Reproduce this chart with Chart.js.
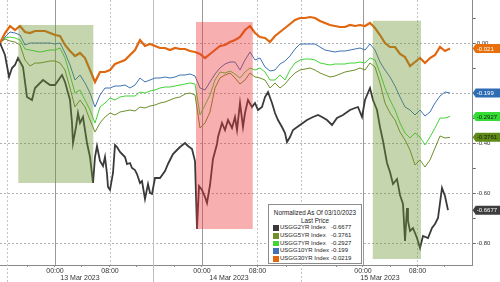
<!DOCTYPE html>
<html lang="en">
<head>
<meta charset="UTF-8" />
<title>US Treasury yields normalized</title>
<script src="https://cdn.jsdelivr.net/npm/chart.js"></script>
<style>
  html, body { margin: 0; padding: 0; background: #fff; }
  body { width: 500px; height: 282px; overflow: hidden; position: relative; font-family: "Liberation Sans", Arial, sans-serif; }
  #chart { position: absolute; left: 0; top: 0; }
  .legend { position: absolute; left: 268px; top: 204px; width: 92px; height: 58px; background: #fff; border: 1px solid #8c8c8c; font-size: 6px; line-height: 7.7px; color: #222; }
  .legend .ttl { text-align: center; font-size: 6.3px; }
  .legend .ttl:first-child { margin-top: 4px; }
  .legend .row { position: relative; height: 7.7px; }
  .legend .sw { position: absolute; left: 4px; top: 1px; width: 5.5px; height: 5.5px; }
  .legend .nm { position: absolute; left: 11px; top: 0; white-space: nowrap; }
  .legend .val { position: absolute; left: 62px; top: 0; }
</style>
</head>
<body>
<canvas id="chart" width="500" height="282"></canvas>
<div class="legend">
  <div class="ttl">Normalized As Of 03/10/2023</div>
  <div class="ttl">Last Price</div>
  <div id="legendRows"></div>
</div>

<script>
// x is trading time in sample units (1 unit ~ 35 min, gaps removed)
const seriesNames = ['USGG2YR Index', 'USGG5YR Index', 'USGG7YR Index', 'USGG10YR Index', 'USGG30YR Index'];
const lastPrice = ['-0.6677', '-0.3761', '-0.2927', '-0.199', '-0.0219'];
const tagText = ['-0.6677', '-0.3761', '-0.2927', '-0.199', '-0.021'];
const seriesColors = ['#3a3a3a', '#6e8f2a', '#43d438', '#3f73b5', '#e0670f'];
const tagColors = ['#3d3d3d', '#5f8a16', '#33dd33', '#2e6db4', '#e8700a'];
const tagTextColors = ['#fff', '#1a1a1a', '#1a1a1a', '#fff', '#fff'];

// 2Y is read at its own (irregular) time points, it is the most jagged line
const us2yTime = [
  0, 1, 1.8, 2.4, 3, 3.6, 4.6, 5.4, 6.4, 7, 8.6, 10, 11, 12.4, 13, 14, 14.4, 14.6, 15.2, 15.6,
  16, 16.6, 17.4, 18, 18.6, 19, 19.4, 20, 20.6, 21, 21.4, 21.6, 22, 22.6, 23, 23.4, 24, 24.4, 25, 25.4,
  26, 26.4, 27, 27.4, 28, 28.4, 29, 29.6, 30, 30.4, 31, 32, 33, 33.6, 34, 34.6, 35.4, 36, 37, 37.6,
  38.4, 39, 39.4, 39.8, 40.4, 41, 41.4, 42, 42.6, 43.4, 43.6, 44.4, 45, 45.6, 46.4, 47, 47.4, 48, 48.6, 49,
  49.6, 50.4, 51, 51.6, 52.4, 53, 53.6, 54.4, 55, 55.6, 56.4, 57, 57.4, 58, 58.6, 60, 61.4, 62.6, 63.6, 64.4,
  65.4, 66.4, 67.4, 68.6, 70, 71, 71.6, 72.4, 73, 74, 74.6, 75.4, 76, 76.6, 77.4, 78, 78.6, 79.4, 80, 80.6,
  81, 81.4, 81.6, 82, 82.6, 83.4, 84, 84.6, 85.6, 86.4, 87, 87.6, 88.4, 89, 89.6
];
const us2y = [
  0.001, -0.047, -0.135, -0.099, -0.087, -0.059, -0.095, -0.215, -0.227, -0.179, -0.147, -0.167, -0.167, -0.127, -0.155, -0.227, -0.319, -0.399, -0.335, -0.279,
  -0.319, -0.295, -0.399, -0.455, -0.559, -0.455, -0.411, -0.471, -0.491, -0.455, -0.523, -0.575, -0.587, -0.519, -0.407, -0.415, -0.435, -0.443, -0.455, -0.483,
  -0.479, -0.499, -0.507, -0.523, -0.559, -0.551, -0.623, -0.563, -0.599, -0.603, -0.539, -0.539, -0.511, -0.483, -0.467, -0.443, -0.427, -0.415, -0.399, -0.411,
  -0.423, -0.471, -0.743, -0.571, -0.587, -0.615, -0.639, -0.567, -0.463, -0.403, -0.375, -0.319, -0.347, -0.307, -0.339, -0.295, -0.347, -0.239, -0.335, -0.279,
  -0.227, -0.255, -0.239, -0.267, -0.255, -0.215, -0.195, -0.239, -0.279, -0.307, -0.335, -0.359, -0.395, -0.375, -0.347, -0.327, -0.307, -0.295, -0.287, -0.295,
  -0.307, -0.327, -0.299, -0.287, -0.267, -0.259, -0.255, -0.295, -0.227, -0.179, -0.227, -0.267, -0.335, -0.391, -0.479, -0.515, -0.563, -0.543, -0.607, -0.643,
  -0.791, -0.659, -0.711, -0.751, -0.739, -0.779, -0.819, -0.771, -0.779, -0.739, -0.723, -0.699, -0.579, -0.611, -0.6677
];

// the other tenors share a regular time grid: 0, 1, 2, ... 90
const us5y = [
  0.001, 0.017, 0.009, 0.005, -0.007, -0.067, -0.091, -0.079, -0.079, -0.075,
  -0.071, -0.071, -0.079, -0.107, -0.179, -0.255, -0.227, -0.255, -0.307, -0.355,
  -0.319, -0.295, -0.279, -0.287, -0.275, -0.271, -0.267, -0.271, -0.255, -0.259,
  -0.251, -0.247, -0.239, -0.235, -0.227, -0.219, -0.215, -0.203, -0.199, -0.207,
  -0.339, -0.319, -0.275, -0.179, -0.139, -0.127, -0.119, -0.139, -0.163, -0.147,
  -0.119, -0.135, -0.139, -0.147, -0.179, -0.159, -0.179, -0.163, -0.139, -0.119,
  -0.107, -0.103, -0.099, -0.107, -0.119, -0.127, -0.135, -0.131, -0.123, -0.115,
  -0.111, -0.107, -0.099, -0.107, -0.079, -0.095, -0.159, -0.239, -0.279, -0.307,
  -0.355, -0.387, -0.427, -0.487, -0.467, -0.495, -0.467, -0.419, -0.371, -0.379,
  -0.3761
];
const us7y = [
  0.001, 0.021, 0.025, 0.021, 0.013, -0.023, -0.027, -0.031, -0.035, -0.031,
  -0.027, -0.027, -0.019, -0.059, -0.127, -0.199, -0.187, -0.227, -0.267, -0.319,
  -0.255, -0.239, -0.219, -0.227, -0.215, -0.211, -0.211, -0.211, -0.195, -0.199,
  -0.191, -0.187, -0.179, -0.175, -0.175, -0.171, -0.167, -0.163, -0.159, -0.163,
  -0.287, -0.247, -0.207, -0.147, -0.115, -0.119, -0.111, -0.123, -0.139, -0.115,
  -0.099, -0.107, -0.099, -0.115, -0.147, -0.147, -0.127, -0.147, -0.107, -0.079,
  -0.067, -0.063, -0.063, -0.067, -0.079, -0.083, -0.087, -0.083, -0.083, -0.083,
  -0.079, -0.079, -0.075, -0.079, -0.059, -0.067, -0.119, -0.179, -0.227, -0.267,
  -0.319, -0.359, -0.379, -0.359, -0.375, -0.407, -0.375, -0.339, -0.299, -0.299,
  -0.2927
];
const us10y = [
  0.001, 0.025, 0.045, 0.041, 0.033, -0.007, 0.001, 0.001, 0.001, 0.001,
  0.001, -0.003, 0.001, -0.039, -0.087, -0.147, -0.127, -0.159, -0.199, -0.255,
  -0.207, -0.179, -0.179, -0.171, -0.171, -0.167, -0.179, -0.167, -0.139, -0.155,
  -0.147, -0.139, -0.139, -0.135, -0.139, -0.135, -0.127, -0.127, -0.123, -0.131,
  -0.179, -0.187, -0.155, -0.123, -0.099, -0.083, -0.075, -0.075, -0.107, -0.067,
  -0.035, -0.067, -0.059, -0.095, -0.111, -0.107, -0.083, -0.071, -0.051, -0.023,
  -0.003, -0.003, -0.003, -0.003, -0.015, -0.027, -0.031, -0.035, -0.031, -0.031,
  -0.027, -0.023, -0.019, -0.027, -0.003, -0.027, -0.075, -0.107, -0.135, -0.171,
  -0.215, -0.255, -0.267, -0.287, -0.267, -0.291, -0.275, -0.239, -0.211, -0.195,
  -0.199
];
const us30y = [
  0.001, 0.041, 0.069, 0.053, 0.069, 0.045, 0.041, 0.049, 0.049, 0.049,
  0.041, 0.033, 0.029, -0.007, -0.031, -0.051, -0.039, -0.059, -0.107, -0.155,
  -0.115, -0.115, -0.107, -0.083, -0.075, -0.067, -0.047, -0.027, 0.013, -0.011,
  -0.003, -0.011, -0.019, -0.019, -0.027, -0.019, -0.023, -0.023, -0.031, -0.035,
  -0.043, -0.059, -0.043, -0.027, -0.011, -0.007, 0.005, 0.013, 0.025, 0.053,
  0.069, 0.041, 0.025, 0.021, 0.005, 0.029, 0.045, 0.061, 0.077, 0.093,
  0.101, 0.101, 0.105, 0.101, 0.089, 0.081, 0.073, 0.069, 0.065, 0.065,
  0.073, 0.069, 0.073, 0.069, 0.081, 0.061, 0.033, 0.001, -0.015, -0.015,
  -0.043, -0.055, -0.091, -0.075, -0.059, -0.079, -0.059, -0.047, -0.015, -0.031,
  -0.021
];
const seriesData = [us2y, us5y, us7y, us10y, us30y];

// axis ticks (x in sample units)
const xMin = 0, xMax = 94.54;
const yMin = -0.887, yMax = 0.173;
const yTicks = [-0.8, -0.7, -0.6, -0.5, -0.4, -0.3, -0.2, -0.1, 0, 0.1];
const timeTickPos = [11, 22, 40.4, 51.5, 72.6, 83.5];
const timeTickLabels = ['00:00', '08:00', '00:00', '08:00', '00:00', '08:00'];
const minorTickPos = [5.6, 16.4, 27.4, 35, 46, 57.2, 67.2, 78, 89];
const dateTickPos = [16, 45.8, 76];
const dateTickLabels = ['13 Mar 2023', '14 Mar 2023', '15 Mar 2023'];
const solidLinePos = [11, 40.4, 72.55];
const dottedLinePos = [22, 51.46, 83.46];
const sessionLinePos = [1.46, 30.6, 60.2];

// highlighted boxes
const shadeFrom = [3.66, 39.2, 74.55];
const shadeTo = [18.66, 50.55, 84.2];
const shadeTop = [0.073, 0.085, 0.09];
const shadeBottom = [-0.559, -0.743, -0.863];
const shadeColor = ['rgba(110,150,50,0.4)', 'rgba(235,55,55,0.4)', 'rgba(110,150,50,0.4)'];

// legend rows
const rowsEl = document.getElementById('legendRows');
seriesNames.forEach((n, i) => {
  const r = document.createElement('div');
  r.className = 'row';
  r.innerHTML = '<span class="sw" style="background:' + seriesColors[i] + '"></span><span class="nm">' + n + '</span><span class="val">' + lastPrice[i] + '</span>';
  rowsEl.appendChild(r);
});

function noPad(scale) {
  scale.paddingTop = 0; scale.paddingBottom = 0;
  scale.paddingLeft = 0; scale.paddingRight = 0;
}

const bgLines = {
  id: 'bgLines',
  beforeDatasetsDraw(chart) {
    const {ctx, chartArea, scales: {x}} = chart;
    ctx.save();
    ctx.lineWidth = 1;
    sessionLinePos.forEach((p, i) => {
      const px = Math.round(x.getPixelForValue(p)) + 0.5;
      ctx.strokeStyle = i === 1 ? '#b9bec8' : '#c4c4c4';
      ctx.setLineDash(i === 1 ? [] : [2, 2]);
      ctx.beginPath(); ctx.moveTo(px, chartArea.top); ctx.lineTo(px, chart.height); ctx.stroke();
    });
    ctx.setLineDash([]);
    ctx.strokeStyle = '#9a9a9a';
    solidLinePos.forEach(p => {
      const px = Math.round(x.getPixelForValue(p)) + 0.5;
      ctx.beginPath(); ctx.moveTo(px, chartArea.top); ctx.lineTo(px, chartArea.bottom); ctx.stroke();
    });
    ctx.setLineDash([2, 2]);
    ctx.strokeStyle = '#c4c4c4';
    dottedLinePos.forEach(p => {
      const px = Math.round(x.getPixelForValue(p)) + 0.5;
      ctx.beginPath(); ctx.moveTo(px, chartArea.top); ctx.lineTo(px, chartArea.bottom); ctx.stroke();
    });
    ctx.restore();
  },
  afterDatasetsDraw(chart) {
    const {ctx, scales: {x, y}} = chart;
    ctx.save();
    shadeFrom.forEach((f, i) => {
      const x0 = x.getPixelForValue(f), x1 = x.getPixelForValue(shadeTo[i]);
      const y0 = y.getPixelForValue(shadeTop[i]), y1 = y.getPixelForValue(shadeBottom[i]);
      ctx.fillStyle = shadeColor[i];
      ctx.fillRect(x0, y0, x1 - x0, y1 - y0);
    });
    ctx.restore();
  },
  afterDraw(chart) {
    const {ctx, chartArea, scales: {y}} = chart;
    ctx.save();
    ctx.font = '6px "Liberation Sans", Arial, sans-serif';
    ctx.textBaseline = 'middle';
    seriesData.forEach((d, i) => {
      const py = y.getPixelForValue(d[d.length - 1]);
      const x0 = chartArea.right;
      ctx.fillStyle = tagColors[i];
      ctx.beginPath();
      ctx.moveTo(x0, py);
      ctx.lineTo(x0 + 3, py - 4.5);
      ctx.lineTo(500, py - 4.5);
      ctx.lineTo(500, py + 4.5);
      ctx.lineTo(x0 + 3, py + 4.5);
      ctx.closePath();
      ctx.fill();
      ctx.fillStyle = tagTextColors[i];
      ctx.fillText(tagText[i], x0 + 4, py + 0.5);
    });
    ctx.restore();
  }
};

const datasets = seriesData.map((d, i) => ({
  label: seriesNames[i],
  data: d.map((v, k) => ({x: i === 0 ? us2yTime[k] : k, y: v})),
  borderColor: seriesColors[i],
  borderWidth: i === 0 ? 1.8 : (i === 4 ? 2.2 : 1),
  pointRadius: 0,
  tension: 0,
  order: i === 0 ? 0 : (i === 4 ? 1 : 5 - i + 1)
}));

new Chart(document.getElementById('chart'), {
  type: 'line',
  data: { datasets: datasets },
  plugins: [bgLines],
  options: {
    responsive: false,
    animation: false,
    layout: { padding: 0 },
    plugins: { legend: { display: false }, tooltip: { enabled: false } },
    scales: {
      x: {
        type: 'linear', position: 'bottom', min: xMin, max: xMax,
        afterBuildTicks: s => { s.ticks = timeTickPos.concat(minorTickPos).map(v => ({value: v})); },
        afterFit: s => { s.height = 9; noPad(s); },
        grid: { drawOnChartArea: false, drawTicks: true, tickLength: 2, color: '#8a8a8a' },
        border: { display: true, color: '#8a8a8a' },
        ticks: {
          autoSkip: false, maxRotation: 0, padding: 0, color: '#333',
          font: { size: 7, family: '"Liberation Sans", Arial, sans-serif' },
          callback: v => { const k = timeTickPos.indexOf(v); return k >= 0 ? timeTickLabels[k] : ''; }
        }
      },
      xd: {
        type: 'linear', position: 'bottom', min: xMin, max: xMax,
        afterBuildTicks: s => { s.ticks = dateTickPos.map(v => ({value: v})); },
        afterFit: s => { s.height = 8; noPad(s); },
        grid: { display: false, drawTicks: false, tickLength: 0 },
        border: { display: false },
        ticks: {
          autoSkip: false, maxRotation: 0, padding: 0, color: '#333',
          font: { size: 7, family: '"Liberation Sans", Arial, sans-serif' },
          callback: v => { const k = dateTickPos.indexOf(v); return k >= 0 ? dateTickLabels[k] : ''; }
        }
      },
      y: {
        type: 'linear', position: 'right', min: yMin, max: yMax,
        afterBuildTicks: s => { s.ticks = yTicks.map(v => ({value: v})); },
        afterFit: s => { s.width = 27.3; noPad(s); },
        grid: {
          color: c => (c.tick && Math.round(c.tick.value * 10) % 2 === 0) ? '#b0b0b0' : 'rgba(0,0,0,0)',
          tickColor: '#666', tickLength: 3, drawTicks: true
        },
        border: { display: true, color: '#8a8a8a', dash: [2, 2] },
        ticks: {
          padding: 1, color: '#333',
          font: { size: 6, family: '"Liberation Sans", Arial, sans-serif' },
          callback: v => Math.round(v * 10) % 2 === 0 ? v.toFixed(2) : ''
        }
      }
    }
  }
});
</script>
</body>
</html>
